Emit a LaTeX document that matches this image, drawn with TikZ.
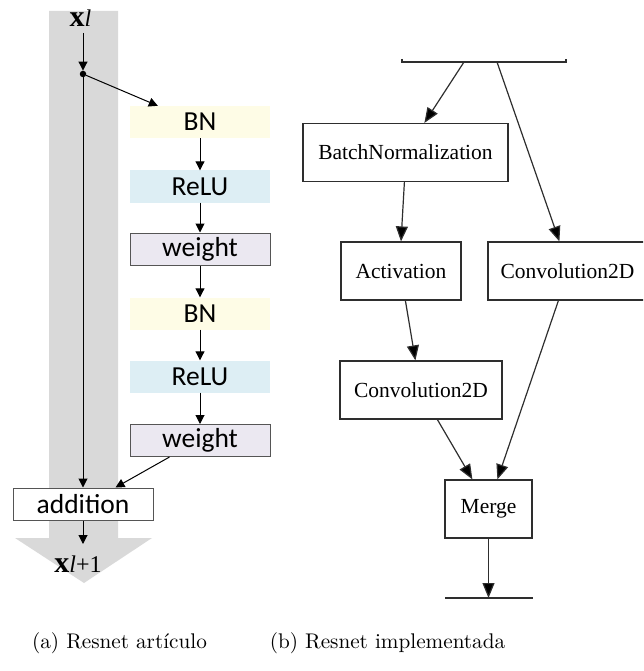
\documentclass[tikz,border=0pt]{standalone}
\usepackage{fontspec}
\newfontfamily\calfont{Carlito}
\newfontfamily\tmsfont{Liberation Serif}
\newfontfamily\capfont{lmroman10-regular}[Extension=.otf]
\usetikzlibrary{arrows.meta,calc}

\definecolor{colgray}{HTML}{D9D9D9}
\definecolor{bnfill}{HTML}{FEFCE6}
\definecolor{relufill}{HTML}{DDEEF4}
\definecolor{wfill}{HTML}{EBE8F1}
\definecolor{wline}{HTML}{555555}
\definecolor{gvline}{HTML}{2E2E2E}

\tikzset{
  lflow/.style={draw=black, line width=1pt, -{Triangle[length=9pt,width=9pt]}},
  rflow/.style={draw=gvline, line width=1.2pt, -{Triangle[length=15pt,width=12pt,fill=black]}},
  layer/.style={minimum width=140pt, minimum height=32pt, inner sep=0pt,
    font=\calfont\fontsize{27.5}{30}\selectfont},
  bnbox/.style={layer, fill=bnfill},
  relubox/.style={layer, fill=relufill},
  weightbox/.style={layer, fill=wfill, draw=wline, line width=1pt},
  addbox/.style={layer, fill=white, draw=wline, line width=1pt},
  gvbox/.style={draw=gvline, line width=1.2pt, minimum height=58pt, inner sep=0pt,
    font=\tmsfont\fontsize{21.5}{24}\selectfont},
  caption/.style={anchor=base, font=\capfont\fontsize{21.2}{25}\selectfont},
  vec/.style={inner sep=0pt, anchor=base, font=\tmsfont}
}

\begin{document}
\begin{tikzpicture}[x=1pt, y=-1pt]
\useasboundingbox (0,0) rectangle (643,671);
\clip (0,0) rectangle (643,671);

% ---------- (a) pre-activation residual unit ----------
% wide identity path drawn as a broad arrow
\fill[colgray] (49,11) -- (118,11) -- (118,538) -- (152,538) -- (84,583)
  -- (15,538) -- (49,538) -- cycle;

\node[vec] (xl) at (80.5,27) {\fontsize{30}{30}\selectfont\textbf{x}\fontsize{24}{24}\selectfont\textit{l}};
\node[circle, fill=black, inner sep=0pt, minimum size=6.5pt] (dot) at (83,74) {};

\node[bnbox]     (bn1)  at (200,122)   {BN};
\node[relubox]   (relu1) at (200,186.5) {ReLU};
\node[weightbox] (w1)   at (200,249)   {weight};
\node[bnbox]     (bn2)  at (200,313.5) {BN};
\node[relubox]   (relu2) at (200,376.5) {ReLU};
\node[weightbox] (w2)   at (200,440.5) {weight};
\node[addbox]    (add)  at (83,504)    {addition};

\coordinate (out) at (83,544);
\node[vec] (xout) at (78,572) {\fontsize{30}{30}\selectfont\textbf{x}\fontsize{24}{24}\selectfont\textit{l}+1};

\draw[lflow] (83,33) -- (dot.north);
\draw[lflow] (dot) -- ($(bn1.north west)+(28,0)$);
\draw[lflow] (bn1) -- (relu1);
\draw[lflow] (relu1) -- (w1);
\draw[lflow] (w1) -- (bn2);
\draw[lflow] (bn2) -- (relu2);
\draw[lflow] (relu2) -- (w2);
\draw[lflow] (dot) -- (add.north);
\draw[lflow] ($(w2.south west)+(40,0)$) -- ($(add.north east)+(-38,0)$);
\draw[lflow] (add) -- (out);

% ---------- (b) implemented block ----------
\coordinate (inL) at (402,62);
\coordinate (inR) at (566,62);
\draw[gvline, line width=1.2pt] ($(inL)+(0,-3)$) -- (inL) -- (inR) -- ($(inR)+(0,-3)$);
\coordinate (src1) at (464,62);
\coordinate (src2) at (497,62);

\node[gvbox, minimum width=205pt] (bnorm) at (405.5,152.5) {BatchNormalization};
\node[gvbox, minimum width=120pt] (act)   at (401,271)     {Activation};
\node[gvbox, minimum width=159pt] (convr) at (567.5,271)   {Convolution2D};
\node[gvbox, minimum width=162pt] (convl) at (421,390)     {Convolution2D};
\node[gvbox, minimum width=87pt]  (merge) at (488.5,509)   {Merge};

\coordinate (outL) at (445,598);
\coordinate (outR) at (533,598);
\draw[gvline, line width=1.2pt] (outL) -- (outR);
\coordinate (sink) at (488.5,598);

\draw[rflow] (src1) -- ($(bnorm.north west)+(122,0)$);
\draw[rflow] (src2) -- ($(convr.north west)+(72,0)$);
\draw[rflow] ($(bnorm.south west)+(102,0)$) -- (act.north);
\draw[rflow] ($(act.south west)+(65,0)$) -- ($(convl.north west)+(76,0)$);
\draw[rflow] ($(convr.south west)+(71,0)$) -- ($(merge.north west)+(53,0)$);
\draw[rflow] ($(convl.south west)+(98,0)$) -- ($(merge.north west)+(28,0)$);
\draw[rflow] (merge) -- (sink);

% ---------- captions ----------
\node[caption] (capa) at (119.5,648) {(a) Resnet artículo};
\node[caption] (capb) at (387.5,648) {(b) Resnet implementada};
\end{tikzpicture}
\end{document}
